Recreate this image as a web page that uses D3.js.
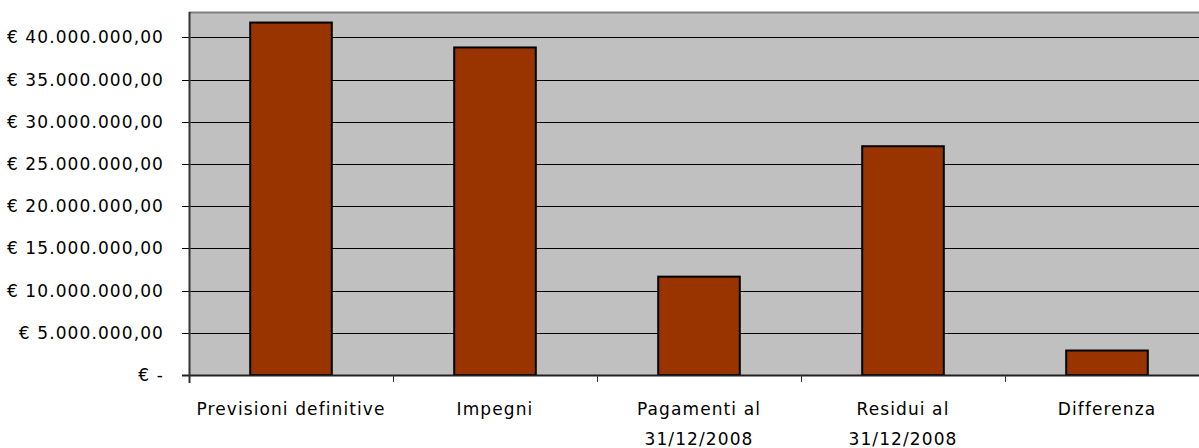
<!DOCTYPE html>
<meta charset="utf-8">
<style>
body { margin: 0; background: #fff; }
text { font-family: "DejaVu Sans", sans-serif; font-size: 17px; letter-spacing: 1.1px; fill: #000; }
.grid line { stroke: #000; stroke-width: 1; }
.bar { fill: #993300; stroke: #000; stroke-width: 2; }
</style>
<svg width="1199" height="448"></svg>
<script src="https://cdn.jsdelivr.net/npm/d3@7"></script>
<script>

var categories = ["Previsioni definitive", "Impegni", "Pagamenti al|31/12/2008", "Residui al|31/12/2008", "Differenza"];
var values = [41750000, 38800000, 11650000, 27100000, 2900000];
var yTicks = [0, 5e6, 10e6, 15e6, 20e6, 25e6, 30e6, 35e6, 40e6];

var svg = d3.select("svg");

var plotL = 189, plotR = 1209, plotT = 12, plotB = 375;

var it = d3.formatLocale({decimal: ",", thousands: ".", grouping: [3], currency: ["€", ""]});
var fmt = it.format(",.2f");

var x = d3.scaleBand()
    .domain(categories)
    .range([plotL, plotR])
    .paddingInner(0.6)
    .paddingOuter(0.3);

var y = d3.scaleLinear()
    .domain([0, 43000000])
    .range([plotB, plotT]);

// plot background
svg.append("rect")
    .attr("x", plotL).attr("y", plotT)
    .attr("width", plotR - plotL).attr("height", plotB - plotT)
    .attr("fill", "#c0c0c0");

svg.append("line")
    .attr("x1", plotL).attr("x2", plotR)
    .attr("y1", plotT + 0.5).attr("y2", plotT + 0.5)
    .attr("stroke", "#808080").attr("stroke-width", 2);

// gridlines
svg.append("g")
    .attr("class", "grid")
  .selectAll("line")
    .data(yTicks.filter(function(d) { return d > 0; }))
  .enter().append("line")
    .attr("x1", plotL - 7).attr("x2", plotR)
    .attr("y1", function(d) { return Math.round(y(d)) + 0.5; })
    .attr("y2", function(d) { return Math.round(y(d)) + 0.5; });

// bars
svg.append("g")
  .selectAll("rect")
    .data(values)
  .enter().append("rect")
    .attr("class", "bar")
    .attr("x", function(d, i) { return x(categories[i]); })
    .attr("width", x.bandwidth())
    .attr("y", function(d) { return y(d); })
    .attr("height", function(d) { return plotB - y(d); });

// axes lines
svg.append("line")
    .attr("x1", plotL - 7).attr("x2", plotR)
    .attr("y1", plotB + 0.5).attr("y2", plotB + 0.5)
    .attr("stroke", "#222").attr("stroke-width", 2);
svg.append("line")
    .attr("x1", plotL + 0.5).attr("x2", plotL + 0.5)
    .attr("y1", plotT).attr("y2", plotB + 8)
    .attr("stroke", "#333").attr("stroke-width", 2);

// y labels
svg.append("g")
  .selectAll("text")
    .data(yTicks)
  .enter().append("text")
    .attr("x", 164)
    .attr("y", function(d) { return y(d); })
    .attr("dy", "0.36em")
    .attr("text-anchor", "end")
    .text(function(d) { return d === 0 ? "€ -" : "€ " + fmt(d); });

// x category ticks
svg.append("g")
  .selectAll("line")
    .data(d3.range(1, categories.length + 1))
  .enter().append("line")
    .attr("x1", function(i) { return Math.round(plotL + i * x.step()) + 0.5; })
    .attr("x2", function(i) { return Math.round(plotL + i * x.step()) + 0.5; })
    .attr("y1", plotB).attr("y2", plotB + 7)
    .attr("stroke", "#333");

// x labels
var lab = svg.append("g")
  .selectAll("text")
    .data(categories)
  .enter().append("text")
    .attr("text-anchor", "middle")
    .attr("x", function(d) { return x(d) + x.bandwidth() / 2; })
    .attr("y", 415);

lab.selectAll("tspan")
    .data(function(d) { return d.split("|"); })
  .enter().append("tspan")
    .attr("x", function() { var p = this.parentNode.__data__; return x(p) + x.bandwidth() / 2; })
    .attr("dy", function(d, i) { return i ? 30 : 0; })
    .text(function(d) { return d; });

</script>
